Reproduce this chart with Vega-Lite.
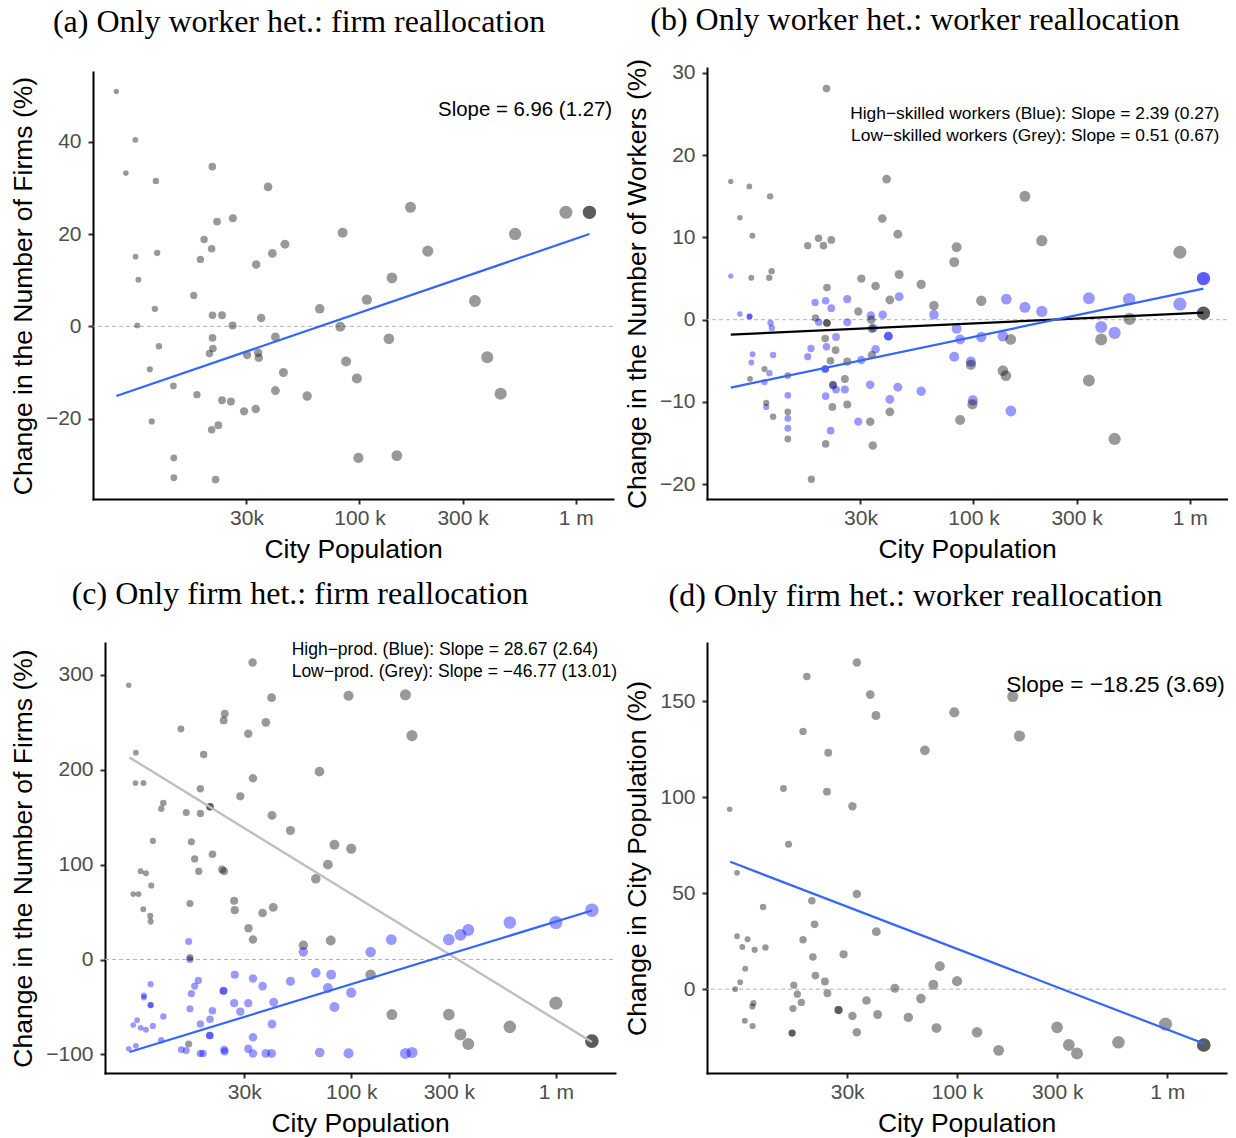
{
"$schema": "https://vega.github.io/schema/vega-lite/v6.json",
"background": "white",
"padding": {"left": 10, "top": 4, "right": 0, "bottom": 0},
"config": {
  "view": {"stroke": null},
  "font": "Liberation Sans",
  "axis": {"grid": false, "domainColor": "#000000", "domainWidth": 2, "domainCap": "square", "tickColor": "#333333", "tickWidth": 2, "tickSize": 5, "labelFont": "Liberation Sans", "labelFontSize": 21, "labelColor": "#4d4d4d", "titleFont": "Liberation Sans", "titleFontSize": 26.5, "titleFontWeight": "normal", "titleColor": "#000000"},
  "axisY": {"titlePadding": 8, "labelPadding": 7},
  "axisX": {"titlePadding": 8, "labelPadding": 3},
  "title": {"font": "Liberation Serif", "fontSize": 32, "fontWeight": "normal", "color": "#000000", "anchor": "middle", "frame": "group", "offset": 33}
},
"datasets": {
  "a": [
{"p":7499,"v":50.9},{"p":9183,"v":40.4},{"p":8299,"v":33.2},{"p":11429,"v":31.5},{"p":20845,"v":34.6},{"p":37757,"v":30.2},{"p":21928,"v":22.7},{"p":25942,"v":23.4},{"p":19099,"v":18.8},{"p":20701,"v":16.8},{"p":18365,"v":14.5},{"p":9204,"v":15.1},{"p":11588,"v":15.9},{"p":33266,"v":13.4},{"p":39537,"v":15.8},{"p":45186,"v":17.8},{"p":9484,"v":10.1},{"p":17100,"v":6.7},{"p":83560,"v":20.3},{"p":172187,"v":25.8},{"p":207014,"v":16.3},{"p":141254,"v":10.5},{"p":108143,"v":5.8},{"p":65464,"v":3.8},{"p":524807,"v":20.0},{"p":901571,"v":24.7},{"p":1158777,"v":24.7},{"p":1158777,"v":24.7},{"p":341979,"v":5.5},{"p":11298,"v":3.8},{"p":20893,"v":2.4},{"p":23121,"v":2.4},{"p":35075,"v":1.8},{"p":9376,"v":0.2},{"p":25882,"v":0.2},{"p":81470,"v":-0.1},{"p":20893,"v":-2.5},{"p":40832,"v":-2.3},{"p":136773,"v":-2.7},{"p":11803,"v":-4.3},{"p":20989,"v":-4.8},{"p":20230,"v":-5.9},{"p":30200,"v":-6.2},{"p":33963,"v":-5.7},{"p":34198,"v":-6.8},{"p":86696,"v":-7.6},{"p":389942,"v":-6.7},{"p":10715,"v":-9.3},{"p":44463,"v":-10.0},{"p":97275,"v":-11.3},{"p":13772,"v":-12.9},{"p":17701,"v":-14.8},{"p":23121,"v":-16.0},{"p":25410,"v":-16.3},{"p":40832,"v":-13.9},{"p":57280,"v":-15.1},{"p":449780,"v":-14.6},{"p":29242,"v":-18.4},{"p":33113,"v":-17.9},{"p":10940,"v":-20.6},{"p":22233,"v":-21.4},{"p":20701,"v":-22.4},{"p":13836,"v":-28.5},{"p":98855,"v":-28.5},{"p":148936,"v":-28.0},{"p":13836,"v":-32.8},{"p":21577,"v":-33.2}
  ],
  "b": [
{"g":"H","p":7534,"v":5.3},{"g":"H","p":8299,"v":0.7},{"g":"H","p":9204,"v":0.4},{"g":"H","p":9204,"v":0.4},{"g":"H","p":11508,"v":-0.4},{"g":"H","p":11668,"v":-1.0},{"g":"H","p":9506,"v":-4.2},{"g":"H","p":9376,"v":-5.2},{"g":"H","p":11830,"v":-4.3},{"g":"H","p":10990,"v":-10.6},{"g":"H","p":11376,"v":-6.5},{"g":"H","p":10789,"v":-7.6},{"g":"H","p":13836,"v":-9.2},{"g":"H","p":13836,"v":-12.0},{"g":"H","p":13836,"v":-13.2},{"g":"H","p":18493,"v":2.1},{"g":"H","p":20701,"v":2.3},{"g":"H","p":21979,"v":1.4},{"g":"H","p":26062,"v":2.5},{"g":"H","p":19231,"v":-0.3},{"g":"H","p":26062,"v":-0.3},{"g":"H","p":23121,"v":-2.1},{"g":"H","p":20893,"v":-3.3},{"g":"H","p":17701,"v":-3.5},{"g":"H","p":17100,"v":-4.5},{"g":"H","p":20606,"v":-6.0},{"g":"H","p":20606,"v":-6.0},{"g":"H","p":22387,"v":-8.0},{"g":"H","p":23121,"v":-8.5},{"g":"H","p":25410,"v":-8.5},{"g":"H","p":20701,"v":-9.3},{"g":"H","p":21827,"v":-13.5},{"g":"H","p":29309,"v":-12.4},{"g":"H","p":33266,"v":-7.9},{"g":"H","p":30269,"v":-4.9},{"g":"H","p":35237,"v":-3.6},{"g":"H","p":33497,"v":0.5},{"g":"H","p":38019,"v":0.6},{"g":"H","p":34435,"v":-1.0},{"g":"H","p":40365,"v":-2.0},{"g":"H","p":40365,"v":-2.0},{"g":"H","p":45290,"v":2.8},{"g":"H","p":44668,"v":-8.2},{"g":"H","p":41020,"v":-9.7},{"g":"H","p":57280,"v":-8.7},{"g":"H","p":65615,"v":0.6},{"g":"H","p":83560,"v":-1.1},{"g":"H","p":86696,"v":-2.4},{"g":"H","p":81470,"v":-4.5},{"g":"H","p":97275,"v":-5.1},{"g":"H","p":99312,"v":-9.8},{"g":"H","p":108643,"v":-2.1},{"g":"H","p":141906,"v":2.5},{"g":"H","p":172982,"v":1.5},{"g":"H","p":207014,"v":1.0},{"g":"H","p":136773,"v":-2.0},{"g":"H","p":148936,"v":-11.1},{"g":"H","p":341979,"v":2.6},{"g":"H","p":389942,"v":-0.9},{"g":"H","p":449780,"v":-1.6},{"g":"H","p":524807,"v":2.5},{"g":"H","p":901571,"v":1.9},{"g":"H","p":1158777,"v":5.0},{"g":"H","p":1158777,"v":5.0},
{"g":"L","p":20893,"v":28.1},{"g":"L","p":7534,"v":16.8},{"g":"L","p":9183,"v":16.2},{"g":"L","p":11455,"v":15.0},{"g":"L","p":8299,"v":12.4},{"g":"L","p":9484,"v":10.2},{"g":"L","p":39628,"v":17.1},{"g":"L","p":37844,"v":12.3},{"g":"L","p":44668,"v":10.4},{"g":"L","p":17100,"v":9.0},{"g":"L","p":19187,"v":9.9},{"g":"L","p":20230,"v":9.0},{"g":"L","p":21979,"v":9.7},{"g":"L","p":172982,"v":15.0},{"g":"L","p":207014,"v":9.6},{"g":"L","p":83560,"v":8.8},{"g":"L","p":81470,"v":7.0},{"g":"L","p":901571,"v":8.2},{"g":"L","p":11641,"v":5.9},{"g":"L","p":11350,"v":5.1},{"g":"L","p":9376,"v":5.1},{"g":"L","p":30269,"v":5.0},{"g":"L","p":35237,"v":4.1},{"g":"L","p":45290,"v":5.5},{"g":"L","p":57280,"v":4.3},{"g":"L","p":20989,"v":3.9},{"g":"L","p":41020,"v":2.4},{"g":"L","p":65615,"v":1.7},{"g":"L","p":108643,"v":2.3},{"g":"L","p":29309,"v":1.0},{"g":"L","p":18578,"v":0.2},{"g":"L","p":20989,"v":-0.4},{"g":"L","p":20989,"v":-0.4},{"g":"L","p":33651,"v":0.0},{"g":"L","p":33884,"v":-1.1},{"g":"L","p":527230,"v":0.1},{"g":"L","p":1158777,"v":0.8},{"g":"L","p":1158777,"v":0.8},{"g":"L","p":20606,"v":-2.3},{"g":"L","p":23014,"v":-3.7},{"g":"L","p":21777,"v":-5.0},{"g":"L","p":26062,"v":-5.1},{"g":"L","p":33884,"v":-4.3},{"g":"L","p":148594,"v":-2.4},{"g":"L","p":389942,"v":-2.4},{"g":"L","p":97275,"v":-5.5},{"g":"L","p":136773,"v":-6.2},{"g":"L","p":141254,"v":-6.8},{"g":"L","p":10789,"v":-6.0},{"g":"L","p":9247,"v":-7.2},{"g":"L","p":13836,"v":-6.8},{"g":"L","p":22387,"v":-7.9},{"g":"L","p":25410,"v":-7.2},{"g":"L","p":10990,"v":-10.1},{"g":"L","p":11830,"v":-11.8},{"g":"L","p":13836,"v":-11.2},{"g":"L","p":13836,"v":-14.5},{"g":"L","p":22233,"v":-10.6},{"g":"L","p":26062,"v":-10.3},{"g":"L","p":41020,"v":-11.2},{"g":"L","p":33266,"v":-12.4},{"g":"L","p":20701,"v":-15.1},{"g":"L","p":34198,"v":-15.3},{"g":"L","p":86696,"v":-12.2},{"g":"L","p":98855,"v":-10.3},{"g":"L","p":341979,"v":-7.4},{"g":"L","p":449780,"v":-14.5},{"g":"L","p":17783,"v":-19.4}
  ],
  "c": [
{"g":"H","p":16069,"v":19},{"g":"H","p":16293,"v":0},{"g":"H","p":58345,"v":8},{"g":"H","p":124451,"v":8},{"g":"H","p":157036,"v":21},{"g":"H","p":299916,"v":21},{"g":"H","p":341979,"v":26},{"g":"H","p":373250,"v":31},{"g":"H","p":595662,"v":39},{"g":"H","p":1000000,"v":39},{"g":"H","p":1499685,"v":52},{"g":"H","p":10471,"v":-26},{"g":"H","p":9705,"v":-38},{"g":"H","p":9705,"v":-40},{"g":"H","p":10471,"v":-48},{"g":"H","p":10471,"v":-48},{"g":"H","p":8995,"v":-64},{"g":"H","p":8610,"v":-69},{"g":"H","p":9354,"v":-72},{"g":"H","p":9931,"v":-74},{"g":"H","p":10740,"v":-70},{"g":"H","p":12078,"v":-60},{"g":"H","p":11803,"v":-85},{"g":"H","p":8872,"v":-91},{"g":"H","p":8185,"v":-94},{"g":"H","p":17906,"v":-22},{"g":"H","p":17179,"v":-28},{"g":"H","p":16558,"v":-36},{"g":"H","p":16293,"v":-52},{"g":"H","p":18323,"v":-68},{"g":"H","p":20417,"v":-63},{"g":"H","p":20989,"v":-54},{"g":"H","p":20370,"v":-80},{"g":"H","p":20370,"v":-80},{"g":"H","p":14791,"v":-95},{"g":"H","p":15631,"v":-96},{"g":"H","p":18323,"v":-99},{"g":"H","p":18880,"v":-99},{"g":"H","p":23768,"v":-33},{"g":"H","p":23768,"v":-33},{"g":"H","p":26977,"v":-16},{"g":"H","p":26792,"v":-46},{"g":"H","p":28708,"v":-55},{"g":"H","p":31405,"v":-46},{"g":"H","p":33113,"v":-20},{"g":"H","p":36897,"v":-28},{"g":"H","p":41783,"v":-45},{"g":"H","p":41020,"v":-68},{"g":"H","p":33113,"v":-82},{"g":"H","p":23933,"v":-95},{"g":"H","p":24099,"v":-97},{"g":"H","p":31405,"v":-94},{"g":"H","p":33113,"v":-99},{"g":"H","p":38282,"v":-99},{"g":"H","p":40832,"v":-99},{"g":"H","p":50466,"v":-23},{"g":"H","p":67143,"v":-14},{"g":"H","p":79799,"v":-16},{"g":"H","p":76913,"v":-30},{"g":"H","p":100000,"v":-35},{"g":"H","p":82794,"v":-50},{"g":"H","p":70146,"v":-98},{"g":"H","p":97051,"v":-99},{"g":"H","p":184077,"v":-99},{"g":"H","p":198153,"v":-98},
{"g":"L","p":32961,"v":313},{"g":"L","p":8185,"v":289},{"g":"L","p":40832,"v":276},{"g":"L","p":97051,"v":278},{"g":"L","p":184077,"v":279},{"g":"L","p":24099,"v":259},{"g":"L","p":23823,"v":252},{"g":"L","p":14723,"v":243},{"g":"L","p":38282,"v":250},{"g":"L","p":31405,"v":238},{"g":"L","p":198153,"v":236},{"g":"L","p":8872,"v":218},{"g":"L","p":19011,"v":216},{"g":"L","p":8831,"v":186},{"g":"L","p":9661,"v":186},{"g":"L","p":33113,"v":191},{"g":"L","p":18323,"v":180},{"g":"L","p":28708,"v":172},{"g":"L","p":69984,"v":198},{"g":"L","p":12078,"v":165},{"g":"L","p":11803,"v":159},{"g":"L","p":15631,"v":155},{"g":"L","p":18323,"v":154},{"g":"L","p":20417,"v":161},{"g":"L","p":20417,"v":161},{"g":"L","p":41020,"v":152},{"g":"L","p":50466,"v":136},{"g":"L","p":10740,"v":125},{"g":"L","p":16558,"v":124},{"g":"L","p":17179,"v":106},{"g":"L","p":20989,"v":111},{"g":"L","p":17989,"v":93},{"g":"L","p":9354,"v":93},{"g":"L","p":9931,"v":91},{"g":"L","p":23388,"v":95},{"g":"L","p":23933,"v":93},{"g":"L","p":82794,"v":121},{"g":"L","p":100000,"v":117},{"g":"L","p":76913,"v":100},{"g":"L","p":67143,"v":85},{"g":"L","p":8610,"v":69},{"g":"L","p":9141,"v":69},{"g":"L","p":10544,"v":78},{"g":"L","p":16293,"v":59},{"g":"L","p":26792,"v":62},{"g":"L","p":26977,"v":52},{"g":"L","p":9638,"v":53},{"g":"L","p":10423,"v":46},{"g":"L","p":10471,"v":40},{"g":"L","p":36897,"v":49},{"g":"L","p":41591,"v":55},{"g":"L","p":31477,"v":33},{"g":"L","p":33113,"v":21},{"g":"L","p":58345,"v":15},{"g":"L","p":79433,"v":20},{"g":"L","p":16293,"v":2},{"g":"L","p":124451,"v":-16},{"g":"L","p":158125,"v":-58},{"g":"L","p":299916,"v":-58},{"g":"L","p":595662,"v":-71},{"g":"L","p":1000000,"v":-46},{"g":"L","p":341979,"v":-79},{"g":"L","p":373250,"v":-89},{"g":"L","p":1499685,"v":-86},{"g":"L","p":1499685,"v":-86},{"g":"L","p":16069,"v":-89}
  ],
  "d": [
{"p":33343,"v":170.3},{"p":19275,"v":163},{"p":38637,"v":153.6},{"p":41115,"v":142.7},{"p":184077,"v":152.6},{"p":97051,"v":144.3},{"p":198153,"v":132},{"p":18493,"v":134.4},{"p":70307,"v":124.5},{"p":24378,"v":123.3},{"p":14928,"v":104.6},{"p":24044,"v":103},{"p":31769,"v":95.4},{"p":8279,"v":93.8},{"p":15776,"v":75.6},{"p":8974,"v":60.7},{"p":33343,"v":49.6},{"p":20370,"v":46.1},{"p":11940,"v":42.8},{"p":20989,"v":33.8},{"p":41305,"v":30},{"p":8974,"v":27.6},{"p":10069,"v":26},{"p":18493,"v":25.8},{"p":9506,"v":22},{"p":10889,"v":20.5},{"p":12246,"v":21.7},{"p":28840,"v":18.2},{"p":20606,"v":16.8},{"p":9817,"v":10.6},{"p":82794,"v":12},{"p":9290,"v":3.6},{"p":21184,"v":7.1},{"p":23496,"v":4},{"p":16711,"v":2.1},{"p":50582,"v":0.5},{"p":77090,"v":2.3},{"p":100000,"v":4.2},{"p":8790,"v":0},{"p":17378,"v":-2.6},{"p":24155,"v":-2.1},{"p":10740,"v":-7.3},{"p":10617,"v":-9},{"p":18155,"v":-6.9},{"p":37068,"v":-5.9},{"p":67298,"v":-4.9},{"p":16558,"v":-10.1},{"p":27290,"v":-10.9},{"p":27290,"v":-10.9},{"p":31769,"v":-14},{"p":41879,"v":-13.2},{"p":58614,"v":-14.7},{"p":9772,"v":-16.5},{"p":10641,"v":-19.2},{"p":16406,"v":-22.9},{"p":16406,"v":-22.9},{"p":33343,"v":-22.4},{"p":79799,"v":-20.3},{"p":124451,"v":-22.5},{"p":157761,"v":-31.9},{"p":299226,"v":-19.9},{"p":340408,"v":-29.1},{"p":372392,"v":-33.5},{"p":586138,"v":-27.7},{"p":981748,"v":-18.2},{"p":1492794,"v":-29.1},{"p":1492794,"v":-29.1}
  ],
  "fits": [
{"panel":"a","g":"H","p":7499,"v":-15.1},{"panel":"a","g":"H","p":1158777,"v":20.0},
{"panel":"b","g":"H","p":7534,"v":-8.26},{"panel":"b","g":"H","p":1158777,"v":3.77},
{"panel":"b","g":"L","p":7534,"v":-1.82},{"panel":"b","g":"L","p":1158777,"v":0.85},
{"panel":"c","g":"H","p":8255,"v":-97.5},{"panel":"c","g":"H","p":1499685,"v":51.6},
{"panel":"c","g":"L","p":8255,"v":213},{"panel":"c","g":"L","p":1499685,"v":-87},
{"panel":"d","g":"H","p":8337,"v":66.4},{"panel":"d","g":"H","p":1492794,"v":-28.3}
  ],
  "notes": [
{"panel":"a","label":"Slope = 6.96 (1.27)","p":1475000,"v":46.9},
{"panel":"b","label":"High−skilled workers (Blue): Slope = 2.39 (0.27)","p":1373000,"v":25.0},
{"panel":"b","label":"Low−skilled workers (Grey): Slope = 0.51 (0.67)","p":1373000,"v":22.3},
{"panel":"c","label":"High−prod. (Blue): Slope = 28.67 (2.64)","p":51170,"v":326.3},
{"panel":"c","label":"Low−prod. (Grey): Slope = −46.77 (13.01)","p":51170,"v":302.8},
{"panel":"d","label":"Slope = −18.25 (3.69)","p":1880000,"v":158.7}
  ]
},
"columns": 2,
"align": "all",
"spacing": {"row": 11, "column": 6},
"concat": [
  {"width": 520, "height": 427,
   "title": {"text": "(a) Only worker het.: firm reallocation", "dx": -54},
   "layer": [
    {"data": {"values": [{}]}, "mark": {"type": "rule", "strokeDash": [4, 3], "color": "#b3b3b3", "strokeWidth": 1},
     "encoding": {"y": {"datum": 0, "type": "quantitative", "scale": {"domain": [-37.4, 55.1], "nice": false, "zero": false}, "axis": {"title": "Change in the Number of Firms (%)", "values": [-20, 0, 20, 40]}}}},
    {"data": {"name": "a"}, "mark": {"type": "circle", "color": "#000000", "fillOpacity": 0.4, "strokeWidth": 0},
     "encoding": {
      "x": {"field": "p", "type": "quantitative", "scale": {"type": "log", "domain": [5848, 1489000], "nice": false}, "axis": {"title": "City Population", "values": [30000, 100000, 300000, 1000000], "labelExpr": "datum.value < 50000 ? '30k' : datum.value < 200000 ? '100 k' : datum.value < 500000 ? '300 k' : '1 m'"}},
      "y": {"field": "v", "type": "quantitative", "scale": {"domain": [-37.4, 55.1], "nice": false, "zero": false}, "axis": {"title": "Change in the Number of Firms (%)", "values": [-20, 0, 20, 40]}},
      "size": {"field": "p", "type": "quantitative", "scale": {"type": "log", "domain": [7499, 1158777], "range": [28, 185]}, "legend": null}}},
    {"data": {"name": "fits"}, "transform": [{"filter": "datum.panel == 'a'"}], "mark": {"type": "line", "color": "#3366ff", "strokeWidth": 2.2},
     "encoding": {
      "x": {"field": "p", "type": "quantitative", "scale": {"type": "log", "domain": [5848, 1489000], "nice": false}},
      "y": {"field": "v", "type": "quantitative", "scale": {"domain": [-37.4, 55.1], "nice": false, "zero": false}}}},
    {"data": {"name": "notes"}, "transform": [{"filter": "datum.panel == 'a'"}], "mark": {"type": "text", "align": "right", "baseline": "middle", "font": "Liberation Sans", "fontSize": 20.4, "color": "#000000"},
     "encoding": {
      "x": {"field": "p", "type": "quantitative", "scale": {"type": "log", "domain": [5848, 1489000], "nice": false}},
      "y": {"field": "v", "type": "quantitative", "scale": {"domain": [-37.4, 55.1], "nice": false, "zero": false}},
      "text": {"field": "label"}}}
   ]},
  {"width": 520, "height": 427,
   "title": {"text": "(b) Only worker het.: worker reallocation", "dx": -52, "offset": 21},
   "layer": [
    {"data": {"values": [{}]}, "mark": {"type": "rule", "strokeDash": [4, 3], "color": "#b3b3b3", "strokeWidth": 1},
     "encoding": {"y": {"datum": 0, "type": "quantitative", "scale": {"domain": [-21.8, 30.6], "nice": false, "zero": false, "range": [427, -4]}, "axis": {"title": "Change in the Number of Workers (%)", "values": [-20, -10, 0, 10, 20, 30]}}}},
    {"data": {"name": "b"}, "mark": {"type": "circle", "fillOpacity": 0.4, "strokeWidth": 0},
     "encoding": {
      "x": {"field": "p", "type": "quantitative", "scale": {"type": "log", "domain": [5848, 1489000], "nice": false}, "axis": {"title": "City Population", "values": [30000, 100000, 300000, 1000000], "labelExpr": "datum.value < 50000 ? '30k' : datum.value < 200000 ? '100 k' : datum.value < 500000 ? '300 k' : '1 m'"}},
      "y": {"field": "v", "type": "quantitative", "scale": {"domain": [-21.8, 30.6], "nice": false, "zero": false, "range": [427, -4]}, "axis": {"title": "Change in the Number of Workers (%)", "values": [-20, -10, 0, 10, 20, 30]}},
      "color": {"field": "g", "type": "nominal", "scale": {"domain": ["L", "H"], "range": ["#000000", "#0000ff"]}, "legend": null},
      "size": {"field": "p", "type": "quantitative", "scale": {"type": "log", "domain": [7499, 1158777], "range": [28, 185]}, "legend": null}}},
    {"data": {"name": "fits"}, "transform": [{"filter": "datum.panel == 'b' && datum.g == 'L'"}], "mark": {"type": "line", "color": "#000000", "strokeWidth": 2.2},
     "encoding": {
      "x": {"field": "p", "type": "quantitative", "scale": {"type": "log", "domain": [5848, 1489000], "nice": false}},
      "y": {"field": "v", "type": "quantitative", "scale": {"domain": [-21.8, 30.6], "nice": false, "zero": false, "range": [427, -4]}}}},
    {"data": {"name": "fits"}, "transform": [{"filter": "datum.panel == 'b' && datum.g == 'H'"}], "mark": {"type": "line", "color": "#3366ff", "strokeWidth": 2.2},
     "encoding": {
      "x": {"field": "p", "type": "quantitative", "scale": {"type": "log", "domain": [5848, 1489000], "nice": false}},
      "y": {"field": "v", "type": "quantitative", "scale": {"domain": [-21.8, 30.6], "nice": false, "zero": false, "range": [427, -4]}}}},
    {"data": {"name": "notes"}, "transform": [{"filter": "datum.panel == 'b'"}], "mark": {"type": "text", "align": "right", "baseline": "middle", "font": "Liberation Sans", "fontSize": 17.4, "color": "#000000"},
     "encoding": {
      "x": {"field": "p", "type": "quantitative", "scale": {"type": "log", "domain": [5848, 1489000], "nice": false}},
      "y": {"field": "v", "type": "quantitative", "scale": {"domain": [-21.8, 30.6], "nice": false, "zero": false, "range": [427, -4]}},
      "text": {"field": "label"}}}
   ]},
  {"width": 522, "height": 430,
   "title": {"text": "(c) Only firm het.: firm reallocation", "dx": -54, "offset": 30},
   "layer": [
    {"data": {"values": [{}]}, "mark": {"type": "rule", "strokeDash": [4, 3], "color": "#b3b3b3", "strokeWidth": 1},
     "encoding": {
      "x": {"datum": 6266, "type": "quantitative", "scale": {"type": "log", "domain": [6266, 1945000], "nice": false, "range": [12, 522]}},
      "x2": {"datum": 1945000},
      "y": {"datum": 0, "type": "quantitative", "scale": {"domain": [-119.6, 333.6], "nice": false, "zero": false}, "axis": {"title": "Change in the Number of Firms (%)", "values": [-100, 0, 100, 200, 300], "offset": -12}}}},
    {"data": {"name": "c"}, "mark": {"type": "circle", "fillOpacity": 0.4, "strokeWidth": 0},
     "encoding": {
      "x": {"field": "p", "type": "quantitative", "scale": {"type": "log", "domain": [6266, 1945000], "nice": false, "range": [12, 522]}, "axis": {"title": "City Population", "values": [30000, 100000, 300000, 1000000], "labelExpr": "datum.value < 50000 ? '30k' : datum.value < 200000 ? '100 k' : datum.value < 500000 ? '300 k' : '1 m'"}},
      "y": {"field": "v", "type": "quantitative", "scale": {"domain": [-119.6, 333.6], "nice": false, "zero": false}, "axis": {"title": "Change in the Number of Firms (%)", "values": [-100, 0, 100, 200, 300], "offset": -12}},
      "color": {"field": "g", "type": "nominal", "scale": {"domain": ["L", "H"], "range": ["#000000", "#0000ff"]}, "legend": null},
      "size": {"field": "p", "type": "quantitative", "scale": {"type": "log", "domain": [8185, 1499685], "range": [28, 185]}, "legend": null}}},
    {"data": {"name": "fits"}, "transform": [{"filter": "datum.panel == 'c' && datum.g == 'L'"}], "mark": {"type": "line", "color": "#bebebe", "strokeWidth": 2.4},
     "encoding": {
      "x": {"field": "p", "type": "quantitative", "scale": {"type": "log", "domain": [6266, 1945000], "nice": false, "range": [12, 522]}},
      "y": {"field": "v", "type": "quantitative", "scale": {"domain": [-119.6, 333.6], "nice": false, "zero": false}}}},
    {"data": {"name": "fits"}, "transform": [{"filter": "datum.panel == 'c' && datum.g == 'H'"}], "mark": {"type": "line", "color": "#3366ff", "strokeWidth": 2.2},
     "encoding": {
      "x": {"field": "p", "type": "quantitative", "scale": {"type": "log", "domain": [6266, 1945000], "nice": false, "range": [12, 522]}},
      "y": {"field": "v", "type": "quantitative", "scale": {"domain": [-119.6, 333.6], "nice": false, "zero": false}}}},
    {"data": {"name": "notes"}, "transform": [{"filter": "datum.panel == 'c'"}], "mark": {"type": "text", "align": "left", "baseline": "middle", "font": "Liberation Sans", "fontSize": 17.5, "color": "#000000"},
     "encoding": {
      "x": {"field": "p", "type": "quantitative", "scale": {"type": "log", "domain": [6266, 1945000], "nice": false, "range": [12, 522]}},
      "y": {"field": "v", "type": "quantitative", "scale": {"domain": [-119.6, 333.6], "nice": false, "zero": false}},
      "text": {"field": "label"}}}
   ]},
  {"width": 519, "height": 430,
   "title": {"text": "(d) Only firm het.: worker reallocation", "dx": -51, "offset": 30},
   "layer": [
    {"data": {"values": [{}]}, "mark": {"type": "rule", "strokeDash": [4, 3], "color": "#b3b3b3", "strokeWidth": 1},
     "encoding": {"y": {"datum": 0, "type": "quantitative", "scale": {"domain": [-43.7, 180.5], "nice": false, "zero": false}, "axis": {"title": "Change in City Population (%)", "values": [0, 50, 100, 150]}}}},
    {"data": {"name": "d"}, "mark": {"type": "circle", "color": "#000000", "fillOpacity": 0.4, "strokeWidth": 0},
     "encoding": {
      "x": {"field": "p", "type": "quantitative", "scale": {"type": "log", "domain": [6457, 1905000], "nice": false}, "axis": {"title": "City Population", "values": [30000, 100000, 300000, 1000000], "labelExpr": "datum.value < 50000 ? '30k' : datum.value < 200000 ? '100 k' : datum.value < 500000 ? '300 k' : '1 m'"}},
      "y": {"field": "v", "type": "quantitative", "scale": {"domain": [-43.7, 180.5], "nice": false, "zero": false}, "axis": {"title": "Change in City Population (%)", "values": [0, 50, 100, 150]}},
      "size": {"field": "p", "type": "quantitative", "scale": {"type": "log", "domain": [8185, 1499685], "range": [28, 185]}, "legend": null}}},
    {"data": {"name": "fits"}, "transform": [{"filter": "datum.panel == 'd'"}], "mark": {"type": "line", "color": "#3366ff", "strokeWidth": 2.2},
     "encoding": {
      "x": {"field": "p", "type": "quantitative", "scale": {"type": "log", "domain": [6457, 1905000], "nice": false}},
      "y": {"field": "v", "type": "quantitative", "scale": {"domain": [-43.7, 180.5], "nice": false, "zero": false}}}},
    {"data": {"name": "notes"}, "transform": [{"filter": "datum.panel == 'd'"}], "mark": {"type": "text", "align": "right", "baseline": "middle", "font": "Liberation Sans", "fontSize": 22.6, "color": "#000000"},
     "encoding": {
      "x": {"field": "p", "type": "quantitative", "scale": {"type": "log", "domain": [6457, 1905000], "nice": false}},
      "y": {"field": "v", "type": "quantitative", "scale": {"domain": [-43.7, 180.5], "nice": false, "zero": false}},
      "text": {"field": "label"}}}
   ]}
]
}
